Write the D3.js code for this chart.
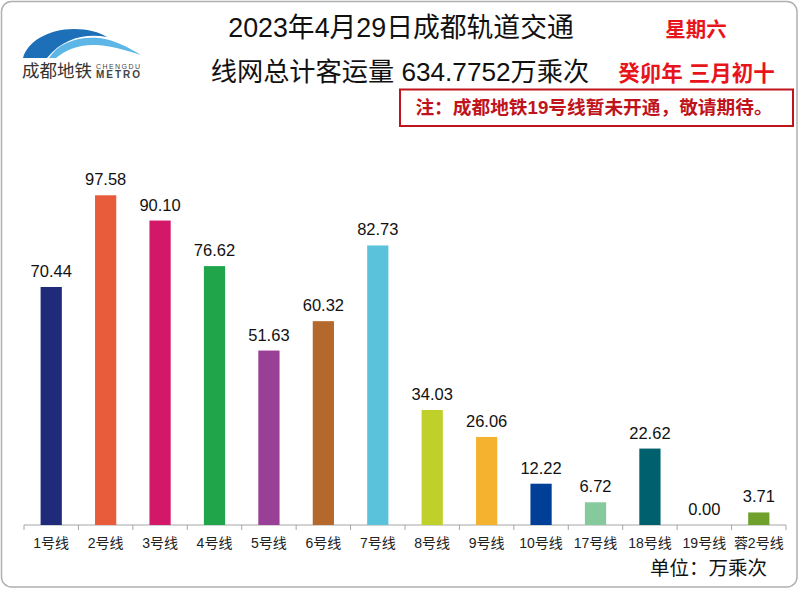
<!DOCTYPE html>
<html><head><meta charset="utf-8">
<script src="https://cdn.jsdelivr.net/npm/d3@7"></script>
<style>body{margin:0;background:#fff;}svg{display:block;}</style>
</head><body>
<script>
const categories = ["1号线","2号线","3号线","4号线","5号线","6号线","7号线","8号线","9号线","10号线","17号线","18号线","19号线","蓉2号线"];
const values = [70.44,97.58,90.10,76.62,51.63,60.32,82.73,34.03,26.06,12.22,6.72,22.62,0.00,3.71];
const colors = ["#1f2a7b","#e85c3c","#d3186a","#20a54b","#9a3f96","#b5682b","#5bc2dc","#bfd02b","#f5b22e","#003f98","#86c99c","#00606e","#cccccc","#6fa02b"];
const titleLines = ["2023年4月29日成都轨道交通","线网总计客运量 634.7752万乘次"];
const dateLines = ["星期六","癸卯年 三月初十"];
const noteText = "注：成都地铁19号线暂未开通，敬请期待。";
const unitText = "单位：万乘次";

const W=800,H=595;
const FONT='"Liberation Sans","Noto Sans CJK SC",sans-serif';
const svg=d3.select("body").append("svg").attr("width",W).attr("height",H);

svg.append("rect").attr("x",1.5).attr("y",1.5).attr("width",795.5).attr("height",585.5)
  .attr("rx",10).attr("fill","#fff").attr("stroke","#b0b0b0").attr("stroke-width",1.5);

// logo
const logo=svg.append("g");
logo.append("path").attr("d","M23,58 C27,42 48,29 74,29 C88,29 99,32 107,37 C86,33 63,38 47,58 Z").attr("fill","#1d6fb8");
logo.append("path").attr("d","M49,58 C58,43 78,36 99,38 C116,40 129,48 141,55 C126,50 111,46 97,45 C79,44 65,50 56,58 Z").attr("fill","#5db6e6");
logo.append("text").attr("x",22).attr("y",77).text("成都地铁").attr("font-family",FONT).attr("font-size",17.5).attr("fill","#333");
logo.append("text").attr("x",96).attr("y",68.5).text("CHENGDU").attr("font-family",FONT).attr("font-size",7).attr("fill","#444").attr("textLength",44);
logo.append("text").attr("x",96).attr("y",77.5).text("METRO").attr("font-family",FONT).attr("font-size",10).attr("font-weight","bold").attr("fill","#444").attr("textLength",44);

// titles
svg.append("text").attr("x",401).attr("y",37).attr("text-anchor","middle").text(titleLines[0])
  .attr("font-family",FONT).attr("font-size",26.8).attr("fill","#111");
svg.append("text").attr("x",400).attr("y",81).attr("text-anchor","middle").text(titleLines[1])
  .attr("font-family",FONT).attr("font-size",26.2).attr("fill","#111");
svg.append("text").attr("x",696).attr("y",37).attr("text-anchor","middle").text(dateLines[0])
  .attr("font-family",FONT).attr("font-size",20.5).attr("font-weight","bold").attr("fill","#e8141c");
svg.append("text").attr("x",696.5).attr("y",81).attr("text-anchor","middle").text(dateLines[1])
  .attr("font-family",FONT).attr("font-size",21.5).attr("font-weight","bold").attr("fill","#e8141c");

// note
svg.append("rect").attr("x",400).attr("y",89.5).attr("width",393).attr("height",36.5)
  .attr("fill","#fff").attr("stroke","#c0141c").attr("stroke-width",2);
svg.append("text").attr("x",594).attr("y",114).attr("text-anchor","middle").text(noteText)
  .attr("font-family",FONT).attr("font-size",18.7).attr("font-weight","bold").attr("fill","#c0141c");

// chart
const x0=24,x1=786,yBase=525;
const x=d3.scaleBand().domain(categories).range([x0,x1]).paddingInner(0.61).paddingOuter(0.305);
const y=d3.scaleLinear().domain([0,100]).range([yBase,yBase-337.9]);

const axis=svg.append("g").attr("transform",`translate(0,${yBase})`);
axis.append("line").attr("x1",x0).attr("x2",x1).attr("stroke","#a6a6a6").attr("stroke-width",1);
const step=(x1-x0)/categories.length;
d3.range(categories.length+1).forEach(i=>{
  axis.append("line").attr("x1",x0+i*step).attr("x2",x0+i*step).attr("y1",0).attr("y2",5).attr("stroke","#a6a6a6");
});

svg.selectAll("rect.bar").data(values).join("rect").attr("class","bar")
  .attr("x",(d,i)=>x(categories[i])).attr("width",x.bandwidth())
  .attr("y",d=>y(d)).attr("height",d=>yBase-y(d)).attr("fill",(d,i)=>colors[i]);

svg.selectAll("text.val").data(values).join("text").attr("class","val")
  .attr("x",(d,i)=>x(categories[i])+x.bandwidth()/2).attr("y",d=>y(d)-10)
  .attr("text-anchor","middle").text(d=>d.toFixed(2))
  .attr("font-family",FONT).attr("font-size",16.5).attr("fill","#111");

svg.selectAll("text.cat").data(categories).join("text").attr("class","cat")
  .attr("x",d=>x(d)+x.bandwidth()/2).attr("y",547.5).attr("text-anchor","middle").text(d=>d)
  .attr("font-family",FONT).attr("font-size",14).attr("fill","#222");

svg.append("text").attr("x",767).attr("y",575).attr("text-anchor","end").text(unitText)
  .attr("font-family",FONT).attr("font-size",19.5).attr("fill","#111");
</script>
</body></html>
